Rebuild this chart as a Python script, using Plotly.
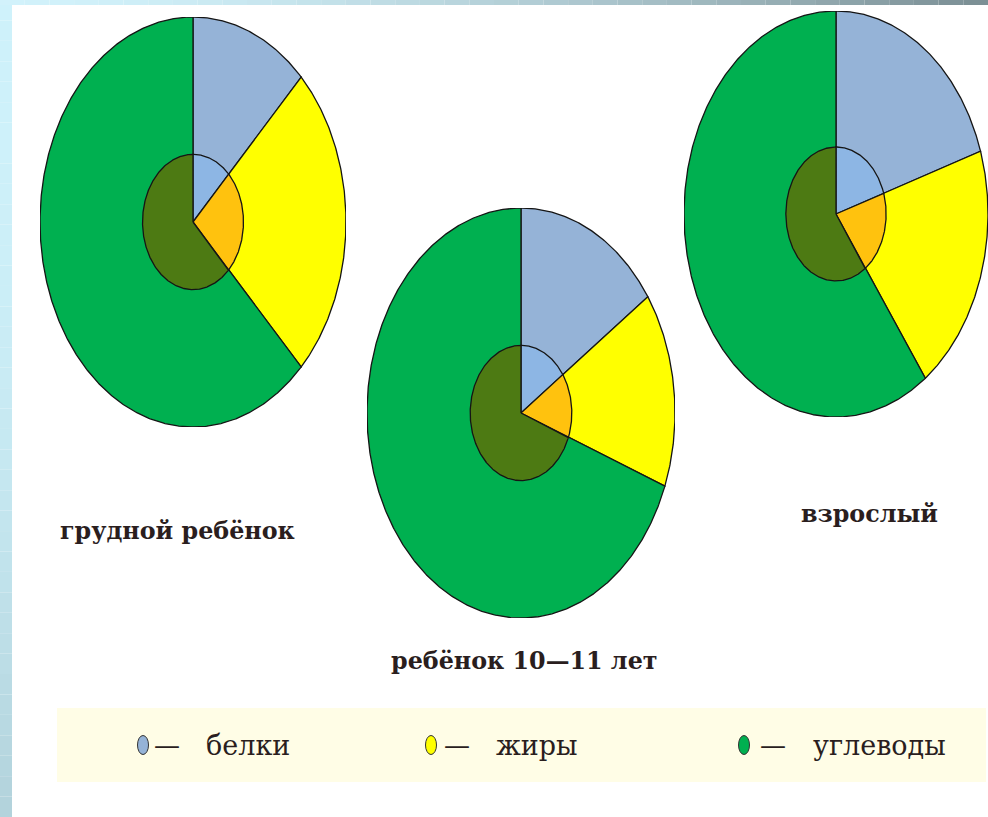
import numpy as np
import plotly.graph_objects as go

W, H = 988, 817

# ---------------- data ----------------
nutrients = ["белки", "жиры", "углеводы"]
groups = ["грудной ребёнок", "ребёнок 10—11 лет", "взрослый"]
infant_values = [12.5, 25.0, 62.5]
child_values = [15.4, 15.4, 69.2]
adult_values = [20.0, 20.0, 60.0]
legend_dash = "—"

# ---------------- styles / layout ----------------
outer_colors = ["#95B3D7", "#FFFF00", "#00B050"]
inner_colors = ["#8DB6E4", "#FFC20E", "#4D7A13"]
inner_scale = 0.33
# pie boxes in pixels: centre x, centre y, radius x, radius y
boxes = [(193, 222, 153, 205), (521, 413, 154, 205), (836, 214, 152, 203)]
label_pos = [(177, 531), (524, 661), (869, 514)]
legend_marker_x = [143, 431, 744]
legend_dash_x = [152, 442, 758]
legend_text_x = [204, 494, 811]
legend_y = 745

fig = go.Figure()


def slice_poly(v0, v1, total, r):
    a0 = 2 * np.pi * v0 / total
    a1 = 2 * np.pi * v1 / total
    n = max(3, int((a1 - a0) * 120))
    t = np.linspace(a0, a1, n)
    xs = np.concatenate([[0], r * np.sin(t), [0]])
    ys = np.concatenate([[0], r * np.cos(t), [0]])
    return xs, ys


all_values = [infant_values, child_values, adult_values]
for i, (vals, box) in enumerate(zip(all_values, boxes)):
    ax = "" if i == 0 else str(i + 1)
    total = sum(vals)
    cum = np.concatenate([[0], np.cumsum(vals)])
    for r, cols in ((1.0, outer_colors), (inner_scale, inner_colors)):
        for k, name in enumerate(nutrients):
            xs, ys = slice_poly(cum[k], cum[k + 1], total, r)
            fig.add_trace(go.Scatter(
                x=xs, y=ys, mode="lines", fill="toself",
                fillcolor=cols[k], line=dict(color="#151515", width=1.3),
                name=name, hoverinfo="name", showlegend=False,
                xaxis="x" + ax, yaxis="y" + ax,
            ))
    cx, cy, rx, ry = box
    fig.update_layout(**{
        "xaxis" + ax: dict(domain=[(cx - rx) / W, min(1.0, (cx + rx) / W)],
                           range=[-1.0, 1.0], visible=False, fixedrange=True),
        "yaxis" + ax: dict(domain=[1 - (cy + ry) / H, 1 - (cy - ry) / H],
                           range=[-1.0, 1.0], visible=False, fixedrange=True),
    })

shapes = []


def lerp(c1, c2, t):
    a = [int(c1[i:i + 2], 16) for i in (1, 3, 5)]
    b = [int(c2[i:i + 2], 16) for i in (1, 3, 5)]
    return "#%02x%02x%02x" % tuple(int(a[j] + (b[j] - a[j]) * t) for j in range(3))


steps = 40
for s in range(steps):
    t = s / (steps - 1)
    y0 = H * s / steps
    y1 = H * (s + 1) / steps
    shapes.append(dict(type="rect", xref="paper", yref="paper",
                       x0=0, x1=12 / W, y0=1 - y1 / H, y1=1 - y0 / H,
                       fillcolor=lerp("#CFF2FB", "#B3D3DC", t ** 2), line=dict(width=0), layer="below"))
    x0 = W * s / steps
    x1 = W * (s + 1) / steps
    shapes.append(dict(type="rect", xref="paper", yref="paper",
                       x0=x0 / W, x1=x1 / W, y0=1 - 5 / H, y1=1,
                       fillcolor=lerp("#D2F2FB", "#7C9095", t ** 1.6), line=dict(width=0), layer="below"))

# legend box
shapes.append(dict(type="rect", xref="paper", yref="paper",
                   x0=57 / W, x1=986 / W, y0=1 - 782 / H, y1=1 - 708 / H,
                   fillcolor="#FFFDE6", line=dict(width=0), layer="below"))
for mx, col in zip(legend_marker_x, outer_colors):
    shapes.append(dict(type="circle", xref="paper", yref="paper",
                       x0=(mx - 5.5) / W, x1=(mx + 5.5) / W,
                       y0=1 - (legend_y + 9.5) / H, y1=1 - (legend_y - 9.5) / H,
                       fillcolor=col, line=dict(color="#333333", width=1)))

annotations = []
for (lx, ly), g in zip(label_pos, groups):
    annotations.append(dict(x=lx / W, y=1 - ly / H, xref="paper", yref="paper",
                            text="<b>" + g + "</b>", showarrow=False,
                            xanchor="center", yanchor="middle",
                            font=dict(family="DejaVu Serif", size=23.8, color="#2A1E1E")))
for dx, tx, lab in zip(legend_dash_x, legend_text_x, nutrients):
    annotations.append(dict(x=dx / W, y=1 - legend_y / H, xref="paper", yref="paper",
                            text=legend_dash, showarrow=False, xanchor="left", yanchor="middle",
                            font=dict(family="DejaVu Serif", size=26, color="#2A1E1E")))
    annotations.append(dict(x=tx / W, y=1 - legend_y / H, xref="paper", yref="paper",
                            text=lab, showarrow=False, xanchor="left", yanchor="middle",
                            font=dict(family="DejaVu Serif", size=27, color="#2A1E1E")))

fig.update_layout(
    width=W, height=H, margin=dict(l=0, r=0, t=0, b=0),
    paper_bgcolor="#FFFFFF", plot_bgcolor="rgba(0,0,0,0)",
    shapes=shapes, annotations=annotations, showlegend=False,
)

fig.write_html("out.html", config={"displayModeBar": False},
               post_script="document.body.style.margin='0';document.body.style.overflow='hidden';")
